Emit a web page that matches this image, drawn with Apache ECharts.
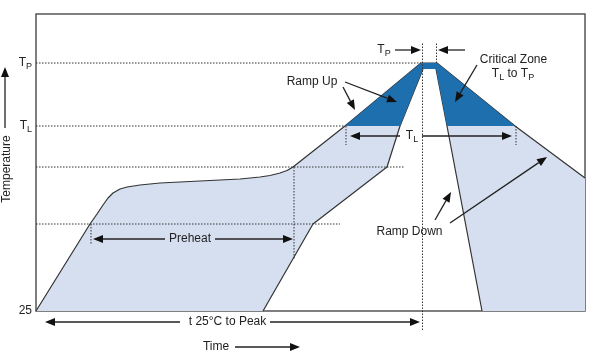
<!DOCTYPE html>
<html><head><meta charset="utf-8">
<script src="https://cdn.jsdelivr.net/npm/echarts@6/dist/echarts.min.js"></script>
<style>html,body{margin:0;padding:0;background:#fff}#c{width:600px;height:353px}</style>
</head><body><div id="c"></div>
<script>
// ---- data (arbitrary time units on x, temperature units above 25 on y) ----
const TL = 185, TP = 248;
const yTickValues = [0, TL, TP];
const yTickLabels = ['25', '{t|T}{s|L}', '{t|T}{s|P}'];

// outer (upper) profile
const outerX = [0, 54, 61, 67, 72, 77, 84, 91, 104, 124, 164, 204, 224, 234, 244, 251, 257, 309, 385, 401, 479, 549];
const outerY = [0, 87, 97, 106, 113, 118, 122, 124, 126, 128, 130, 132, 134, 135.5, 138, 140.5, 144, 185, 248, 248, 185, 133];
// inner (lower) profile, left rising edge and right falling edge
const innerLeftX = [227, 277, 351, 364, 387];
const innerLeftY = [0, 87, 144, 185, 242];
const innerRightX = [400, 411, 446];
const innerRightY = [242, 185, 0];

// dotted reference lines [x1, y1, x2, y2]
const guideX1 = [0, 0, 0, 0, 386.5, 400.5, 310, 480, 55, 258];
const guideY1 = [248, 185, 144, 87, -19, 248, 185, 185, 87, 144];
const guideX2 = [385, 309, 369, 304, 386.5, 400.5, 310, 480, 55, 258];
const guideY2 = [248, 185, 144, 87, 268, 268, 166, 166, 66, 52];

// arrows: tail (x1,y1) -> tip (x2,y2)
const arrowX1 = [129, 179, 364, 386, 144, 234, 199, 359, 429, 307, 309, 441, 399, 414, -31];
const arrowY1 = [72, 72, 175, 175, -11, -11, -36, 261, 261, 224, 229, 246, 91, 88, 183];
const arrowX2 = [57, 257, 314, 476, 9, 384, 264, 385, 402, 319, 361, 419, 415, 511, -31];
const arrowY2 = [72, 72, 175, 175, -11, -11, -36, 261, 261, 201, 209, 209, 119, 154, 244];

// annotation texts
const textStr = ['Preheat', '{t|T}{s|L}', 't 25°C to Peak', 'Time', '{t|T}{s|P}', 'Ramp Up',
  'Critical Zone', '{t|T}{s|L}{t| to T}{s|P}', 'Ramp Down', 'Temperature'];
const textX = [154, 376, 191.5, 180, 348, 276, 477.5, 477, 373.5, -29];
const textY = [72, 175, -11, -36, 261, 229, 251, 237, 79, 142];
const textRot = [0, 0, 0, 0, 0, 0, 0, 0, 0, 90];

// ---- build ----
const FONT = '"Liberation Sans", Arial, sans-serif';
const INK = '#222';
const LIGHT = '#d5dff0';
const DARK = '#1d6fae';
const zip = (xs, ys) => xs.map((x, i) => [x, ys[i]]);
const outer = zip(outerX, outerY);
const innerL = zip(innerLeftX, innerLeftY);
const innerR = zip(innerRightX, innerRightY);

const bandPoly = outer.concat([[outerX[outerX.length - 1], 0]], innerR.slice().reverse(), innerL.slice().reverse());
const critPoly = outer.filter(p => p[1] >= TL)
  .concat(innerR.filter(p => p[1] >= TL).reverse(), innerL.filter(p => p[1] >= TL).reverse());

const rich = {
  t: {fontSize: 12, fontFamily: FONT, color: INK},
  s: {fontSize: 9, fontFamily: FONT, color: INK, padding: [7, 0, 0, 0]}
};

function polySeries(pts, color, z) {
  return {
    type: 'custom', coordinateSystem: 'cartesian2d', z: z, silent: true, clip: false,
    encode: {x: 0, y: 1}, data: [[0, 0]],
    renderItem: (params, api) => ({
      type: 'polygon', shape: {points: pts.map(p => api.coord(p))},
      style: {fill: color, stroke: null}
    })
  };
}
function lineSeries(pts, z) {
  return {
    type: 'line', data: pts, showSymbol: false, symbol: 'none', z: z, silent: true, clip: false,
    lineStyle: {color: '#333', width: 1.2}
  };
}

const option = {
  animation: false,
  backgroundColor: '#fff',
  grid: {left: 36, top: 14, right: 15, bottom: 42, show: true, borderColor: '#555', borderWidth: 1.5, backgroundColor: 'transparent'},
  xAxis: {type: 'value', min: 0, max: 549, axisLine: {show: false}, axisTick: {show: false},
    axisLabel: {show: false}, splitLine: {show: false}},
  yAxis: {type: 'value', min: 0, max: 297, axisLine: {show: false}, axisTick: {show: false},
    splitLine: {show: false},
    axisLabel: {show: true, customValues: yTickValues, margin: 4, color: INK, fontSize: 12, fontFamily: FONT,
      formatter: v => yTickLabels[yTickValues.indexOf(v)] || '', rich: rich}},
  series: [
    polySeries(bandPoly, LIGHT, 1),
    lineSeries(outer, 3),
    lineSeries(innerL, 3),
    lineSeries(innerR, 3),
    polySeries(critPoly, DARK, 4),
    {
      type: 'custom', coordinateSystem: 'cartesian2d', z: 5, silent: true, clip: false,
      encode: {x: 0, y: 1},
      data: guideX1.map((x, i) => [x, guideY1[i], guideX2[i], guideY2[i]]),
      renderItem: (params, api) => {
        const a = api.coord([api.value(0), api.value(1)]);
        const b = api.coord([api.value(2), api.value(3)]);
        return {type: 'line', shape: {x1: a[0], y1: a[1], x2: b[0], y2: b[1]},
          style: {stroke: '#333', lineWidth: 1, lineDash: [1.5, 1.5]}};
      }
    },
    {
      type: 'custom', coordinateSystem: 'cartesian2d', z: 6, silent: true, clip: false,
      encode: {x: 0, y: 1},
      data: arrowX1.map((x, i) => [x, arrowY1[i], arrowX2[i], arrowY2[i]]),
      renderItem: (params, api) => {
        const a = api.coord([api.value(0), api.value(1)]);
        const b = api.coord([api.value(2), api.value(3)]);
        const dx = b[0] - a[0], dy = b[1] - a[1];
        const L = Math.sqrt(dx * dx + dy * dy) || 1;
        const ux = dx / L, uy = dy / L;
        const hl = 10, hw = 4;
        const bx = b[0] - ux * hl, by = b[1] - uy * hl;
        return {type: 'group', children: [
          {type: 'line', shape: {x1: a[0], y1: a[1], x2: bx, y2: by}, style: {stroke: '#222', lineWidth: 1.3}},
          {type: 'polygon', shape: {points: [[b[0], b[1]], [bx - uy * hw, by + ux * hw], [bx + uy * hw, by - ux * hw]]},
            style: {fill: '#111'}}
        ]};
      }
    },
    {
      type: 'custom', coordinateSystem: 'cartesian2d', z: 7, silent: true, clip: false,
      encode: {x: 0, y: 1},
      data: textX.map((x, i) => [x, textY[i]]),
      renderItem: (params, api) => {
        const i = params.dataIndex;
        const p = api.coord([textX[i], textY[i]]);
        return {type: 'text', x: p[0], y: p[1], rotation: textRot[i] * Math.PI / 180,
          style: {text: textStr[i], fill: INK, fontSize: 12, fontFamily: FONT,
            align: 'center', verticalAlign: 'middle', rich: rich}};
      }
    }
  ]
};
echarts.init(document.getElementById('c'), null, {renderer: 'canvas'}).setOption(option);
</script></body></html>
